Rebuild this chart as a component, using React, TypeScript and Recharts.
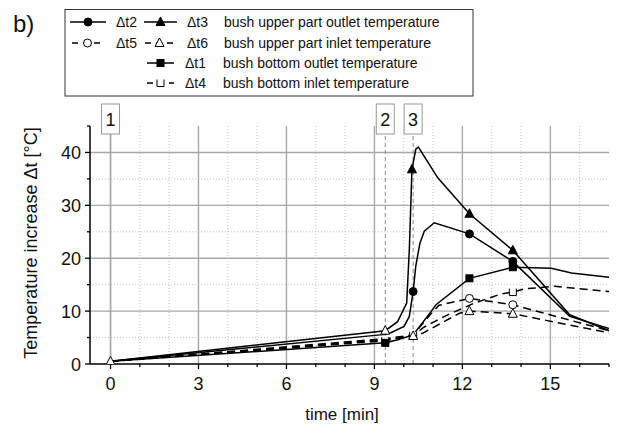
import { LineChart, Line, XAxis, YAxis, CartesianGrid, ReferenceLine } from "recharts";

// time [min] and temperature increase [°C]
const dt3Time = [0, 9.37, 9.79, 10.1, 10.19, 10.28, 10.41, 10.5, 11.16, 12.24, 13.72, 15.66, 17.0];
const dt3Temp = [0.5, 6.3, 8.0, 11.5, 21.6, 36.8, 40.6, 41.0, 35.2, 28.4, 21.5, 9.3, 6.3];

const dt2Time = [0, 9.37, 9.56, 10.01, 10.19, 10.32, 10.41, 10.55, 10.7, 11.04, 12.24, 13.72, 15.66, 17.0];
const dt2Temp = [0.5, 5.6, 5.9, 7.1, 9.0, 13.7, 18.5, 22.8, 25.1, 26.7, 24.6, 19.4, 9.0, 6.7];

const dt1Time = [0, 9.37, 9.8, 10.32, 10.6, 10.93, 11.1, 12.24, 13.72, 15.03, 15.72, 17.0];
const dt1Temp = [0.5, 4.0, 4.6, 5.5, 7.5, 9.9, 11.2, 16.2, 18.3, 18.1, 17.2, 16.4];

const dt5Time = [0, 9.37, 10.32, 10.9, 11.2, 12.24, 13.72, 17.0];
const dt5Temp = [0.5, 4.8, 5.5, 9.3, 11.1, 12.4, 11.2, 6.3];

const dt6Time = [0, 9.37, 10.32, 10.64, 11.9, 12.24, 13.72, 17.0];
const dt6Temp = [0.5, 4.6, 5.3, 5.8, 9.6, 10.0, 9.5, 5.9];

const dt4Time = [0, 9.37, 10.32, 10.7, 11.5, 12.4, 13.3, 13.72, 14.12, 15.15, 17.0];
const dt4Temp = [0.5, 4.4, 5.4, 7.0, 9.3, 11.5, 13.2, 13.6, 14.2, 14.7, 13.7];

// where the symbols sit on each curve
const dt3Marks = [10.28, 12.24, 13.72];
const dt3OpenMarks = [9.37];
const dt2Marks = [10.32, 12.24, 13.72];
const dt1Marks = [9.37, 12.24, 13.72];
const dt5Marks = [12.24, 13.72];
const dt6Marks = [0, 10.32, 12.24, 13.72];
const dt4Marks = [9.37, 10.32, 13.72];

// event markers 1, 2, 3
const eventTimes = [0, 9.37, 10.32];
const eventLabels = ["1", "2", "3"];

const xTicks = [0, 1, 2, 3, 4, 5, 6, 7, 8, 9, 10, 11, 12, 13, 14, 15, 16, 17];
const yTicks = [0, 5, 10, 15, 20, 25, 30, 35, 40, 45];
const xMajorGrid = [0, 3, 6, 9, 12, 15];
const xMinorGrid = [1, 2, 4, 5, 7, 8, 10, 11, 13, 14, 16];
const yMajorGrid = [10, 20, 30, 40];
const yMinorGrid = [5, 15, 25, 35];

const FONT = "'Liberation Sans', Arial, sans-serif";

const toPoints = (t: number[], v: number[]) => t.map((x, i) => ({ t: x, v: v[i] }));

type Shape = "circle" | "triangle" | "square" | "cup";

const Marker = ({ shape, x, y, filled }: { shape: Shape; x: number; y: number; filled: boolean }) => {
  const fill = filled ? "#000" : "#fff";
  if (shape === "circle") return <circle cx={x} cy={y} r={4} fill={fill} stroke="#000" strokeWidth={1} />;
  if (shape === "triangle")
    return (
      <polygon
        points={`${x},${y - 5} ${x - 4.5},${y + 3.5} ${x + 4.5},${y + 3.5}`}
        fill={fill}
        stroke="#000"
        strokeWidth={1}
      />
    );
  if (shape === "square")
    return <rect x={x - 3.5} y={y - 3.5} width={7} height={7} fill={fill} stroke="#000" strokeWidth={1} />;
  return (
    <path
      d={`M${x - 3.5},${y - 3.5} V${y + 3.5} H${x + 3.5} V${y - 3.5}`}
      fill="#fff"
      stroke="#000"
      strokeWidth={1}
    />
  );
};

const markerDot =
  (shape: Shape, filled: boolean, marks: number[], openMarks: number[] = []) =>
  (props: any) => {
    const { cx, cy, payload, index } = props;
    if (marks.includes(payload.t))
      return <Marker key={`m${index}`} shape={shape} x={cx} y={cy} filled={filled} />;
    if (openMarks.includes(payload.t))
      return <Marker key={`m${index}`} shape={shape} x={cx} y={cy} filled={false} />;
    return <g key={`m${index}`} />;
  };

const XTick = ({ x, y, payload }: any) => {
  const major = payload.value % 3 === 0;
  return (
    <g>
      <line x1={x} x2={x} y1={y} y2={y + (major ? 5 : 3)} stroke="#000" strokeWidth={1.3} />
      {major && (
        <text x={x} y={y + 26} textAnchor="middle" fontSize={18} fontFamily={FONT} fill="#111">
          {payload.value}
        </text>
      )}
    </g>
  );
};

const YTick = ({ x, y, payload }: any) => {
  const major = payload.value % 10 === 0;
  return (
    <g>
      <line x1={x} x2={x - (major ? 5 : 3)} y1={y} y2={y} stroke="#000" strokeWidth={1.3} />
      {major && (
        <text x={x - 9} y={y + 6.5} textAnchor="end" fontSize={18} fontFamily={FONT} fill="#111">
          {payload.value}
        </text>
      )}
    </g>
  );
};

const EventBox = ({ viewBox, num }: any) => {
  if (!viewBox) return null;
  const { x, y } = viewBox;
  return (
    <g>
      <rect x={x - 9} y={y - 22} width={18} height={30} fill="#fff" stroke="#999" strokeWidth={1} />
      <text x={x} y={y - 0.5} textAnchor="middle" fontSize={18} fontFamily={FONT} fill="#111">
        {num}
      </text>
    </g>
  );
};

const LegendSym = ({ x1, x2, y, dashed, shape, filled }: any) => (
  <g>
    <line
      x1={x1}
      x2={x2}
      y1={y}
      y2={y}
      stroke="#000"
      strokeWidth={1.5}
      strokeDasharray={dashed ? "6 5" : undefined}
    />
    <Marker shape={shape} x={(x1 + x2) / 2} y={y} filled={filled} />
  </g>
);

const Overlay = () => {
  const ts = { fontSize: 14, fontFamily: FONT, fill: "#111" } as const;
  const rows = [22, 43, 63, 83];
  return (
    <svg
      width={633}
      height={428}
      style={{ position: "absolute", left: 0, top: 0, pointerEvents: "none" }}
    >
      <text x={13} y={32} fontSize={24} fontFamily={FONT} fill="#111">
        b)
      </text>
      <rect x={65} y={9.5} width={408} height={86.5} fill="#fff" stroke="#333" strokeWidth={1} />
      <LegendSym x1={70} x2={106} y={rows[0]} shape="circle" filled />
      <text x={116} y={rows[0] + 5} {...ts}>Δt2</text>
      <LegendSym x1={144} x2={177} y={rows[0]} shape="triangle" filled />
      <text x={187} y={rows[0] + 5} {...ts}>Δt3</text>
      <text x={224} y={rows[0] + 5} {...ts}>bush upper part outlet temperature</text>

      <LegendSym x1={72} x2={103} y={rows[1]} dashed shape="circle" filled={false} />
      <text x={116} y={rows[1] + 5} {...ts}>Δt5</text>
      <LegendSym x1={145} x2={174} y={rows[1]} dashed shape="triangle" filled={false} />
      <text x={187} y={rows[1] + 5} {...ts}>Δt6</text>
      <text x={224} y={rows[1] + 5} {...ts}>bush upper part inlet temperature</text>

      <LegendSym x1={147} x2={174} y={rows[2]} shape="square" filled />
      <text x={185} y={rows[2] + 5} {...ts}>Δt1</text>
      <text x={223} y={rows[2] + 5} {...ts}>bush bottom outlet temperature</text>

      <LegendSym x1={147} x2={174} y={rows[3]} dashed shape="cup" filled={false} />
      <text x={185} y={rows[3] + 5} {...ts}>Δt4</text>
      <text x={223} y={rows[3] + 5} {...ts}>bush bottom inlet temperature</text>

      <text
        transform="translate(37,243) rotate(-90)"
        textAnchor="middle"
        fontSize={18}
        fontFamily={FONT}
        fill="#111"
      >
        Temperature increase Δt [°C]
      </text>
      <text x={342} y={420} textAnchor="middle" fontSize={17} fontFamily={FONT} fill="#111">
        time [min]
      </text>
    </svg>
  );
};

const lineBase = {
  type: "linear" as const,
  dataKey: "v",
  stroke: "#000",
  strokeWidth: 1.5,
  activeDot: false,
  isAnimationActive: false,
};

export default function App() {
  return (
    <div
      style={{
        position: "absolute",
        left: 0,
        top: 0,
        width: 633,
        height: 428,
        background: "#fff",
        overflow: "hidden",
      }}
    >
      <LineChart width={633} height={428} margin={{ top: 126, right: 24, bottom: 24, left: 40 }}>
        <CartesianGrid
          horizontalValues={yMinorGrid}
          verticalValues={xMinorGrid}
          stroke="#c4c4c4"
          strokeDasharray="1 2"
          strokeWidth={1}
        />
        <CartesianGrid
          horizontalValues={yMajorGrid}
          verticalValues={xMajorGrid}
          stroke="#a8a8a8"
          strokeWidth={1.4}
        />
        <XAxis
          dataKey="t"
          type="number"
          domain={[-0.7, 17]}
          allowDataOverflow
          ticks={xTicks}
          interval={0}
          height={40}
          tickSize={0}
          tickMargin={0}
          tickLine={false}
          tick={<XTick />}
          axisLine={{ stroke: "#000", strokeWidth: 1.5 }}
        />
        <YAxis
          type="number"
          domain={[0, 45]}
          allowDataOverflow
          ticks={yTicks}
          interval={0}
          width={50}
          tickSize={0}
          tickMargin={0}
          tickLine={false}
          tick={<YTick />}
          axisLine={{ stroke: "#000", strokeWidth: 1.5 }}
        />
        {eventTimes.map((t, i) => (
          <ReferenceLine
            key={`ev${i}`}
            x={t}
            stroke={i === 0 ? "#a8a8a8" : "#8a8a8a"}
            strokeWidth={i === 0 ? 1.4 : 1}
            strokeDasharray={i === 0 ? undefined : "4 3"}
            label={<EventBox num={eventLabels[i]} />}
          />
        ))}
        <Line
          {...lineBase}
          data={toPoints(dt4Time, dt4Temp)}
          strokeDasharray="8 5"
          dot={markerDot("cup", false, dt4Marks)}
        />
        <Line
          {...lineBase}
          data={toPoints(dt6Time, dt6Temp)}
          strokeDasharray="8 5"
          dot={markerDot("triangle", false, dt6Marks)}
        />
        <Line
          {...lineBase}
          data={toPoints(dt5Time, dt5Temp)}
          strokeDasharray="8 5"
          dot={markerDot("circle", false, dt5Marks)}
        />
        <Line {...lineBase} data={toPoints(dt1Time, dt1Temp)} dot={markerDot("square", true, dt1Marks)} />
        <Line {...lineBase} data={toPoints(dt2Time, dt2Temp)} dot={markerDot("circle", true, dt2Marks)} />
        <Line
          {...lineBase}
          data={toPoints(dt3Time, dt3Temp)}
          dot={markerDot("triangle", true, dt3Marks, dt3OpenMarks)}
        />
      </LineChart>
      <Overlay />
    </div>
  );
}
